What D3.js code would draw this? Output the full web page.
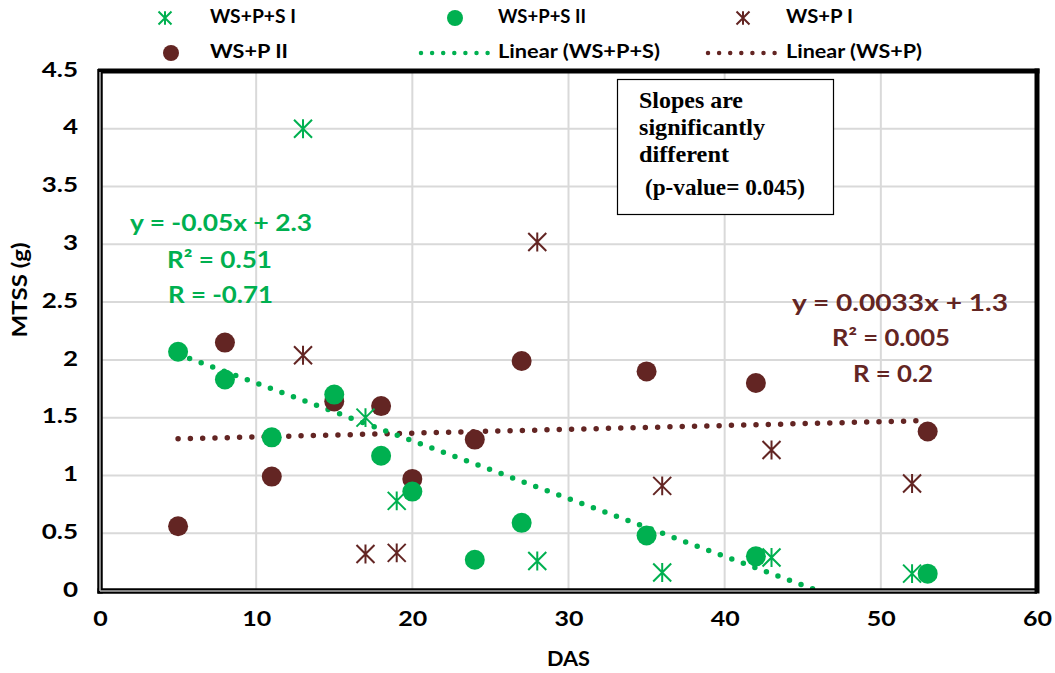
<!DOCTYPE html>
<html>
<head>
<meta charset="utf-8">
<script src="https://cdn.jsdelivr.net/npm/d3@7"></script>
<style>
  html, body { margin: 0; padding: 0; background: #fff; }
  svg { display: block; }
</style>
</head>
<body>
<svg id="chart" width="1055" height="673"></svg>
<script>
// ---------- data ----------
const xTicks = [0, 10, 20, 30, 40, 50, 60];
const yTicks = [0, 0.5, 1, 1.5, 2, 2.5, 3, 3.5, 4, 4.5];
const yTickLabels = ["0", "0.5", "1", "1.5", "2", "2.5", "3", "3.5", "4", "4.5"];

const wspsI_x  = [13, 17, 19, 28, 36, 43, 52];
const wspsI_y  = [4.0, 1.5, 0.78, 0.26, 0.16, 0.29, 0.15];
const wspsII_x = [5, 8, 11, 15, 18, 20, 24, 27, 35, 42, 53];
const wspsII_y = [2.07, 1.83, 1.33, 1.70, 1.17, 0.86, 0.27, 0.59, 0.48, 0.30, 0.15];
const wspI_x   = [13, 17, 19, 28, 36, 43, 52];
const wspI_y   = [2.04, 0.32, 0.33, 3.02, 0.91, 1.22, 0.93];
const wspII_x  = [5, 8, 11, 15, 18, 20, 24, 27, 35, 42, 53];
const wspII_y  = [0.56, 2.15, 0.99, 1.64, 1.60, 0.97, 1.31, 1.99, 1.90, 1.80, 1.38];

// trend lines as printed on the chart: slope, intercept, x range
const trendWSPS = { slope: -0.05, intercept: 2.3, x0: 5, x1: 53 };
const trendWSP  = { slope: 0.0033, intercept: 1.3, x0: 5, x1: 53 };

const legendNames = ["WS+P+S I", "WS+P+S II", "WS+P I", "WS+P II", "Linear (WS+P+S)", "Linear (WS+P)"];
const eqWSPS = ["y = -0.05x + 2.3", "R² = 0.51", "R = -0.71"];
const eqWSP  = ["y = 0.0033x + 1.3", "R² = 0.005", "R = 0.2"];
const noteLines = ["Slopes are", "significantly", "different", "(p-value= 0.045)"];

const GREEN = "#00b050";
const BROWN = "#632523";
const SANS = "Lato, 'Open Sans', sans-serif";
const SERIF = "'Liberation Serif', 'Times New Roman', serif";

// ---------- layout ----------
const svg = d3.select("#chart");
const x = d3.scaleLinear().domain([0, 60]).range([100, 1037]);
const y = d3.scaleLinear().domain([0, 4.5]).range([591, 71]);

function label(g, tx, ty, str, opts) {
  const t = g.append("text").attr("x", tx).attr("y", ty)
    .style("font-family", opts.family || SANS).style("font-weight", "bold")
    .style("font-size", opts.size + "px").attr("fill", opts.fill || "#000")
    .attr("text-anchor", opts.anchor || "start").attr("dominant-baseline", "middle").text(str);
  if (opts.len) t.attr("textLength", opts.len).attr("lengthAdjust", "spacingAndGlyphs");
  return t;
}

// grid
const grid = svg.append("g");
grid.selectAll("line.v").data(xTicks.slice(1, -1)).join("line")
  .attr("x1", d => x(d)).attr("x2", d => x(d))
  .attr("y1", y(4.5)).attr("y2", y(0))
  .attr("stroke", "#d9d9d9").attr("stroke-width", 2);
grid.selectAll("line.h").data(yTicks.slice(1, -1)).join("line")
  .attr("x1", x(0)).attr("x2", x(60))
  .attr("y1", d => y(d)).attr("y2", d => y(d))
  .attr("stroke", "#d9d9d9").attr("stroke-width", 2);

// axes (labels only), text widened like the original
const xAxis = d3.axisBottom(x).tickValues(xTicks).tickSize(0).tickPadding(0);
const gx = svg.append("g").attr("transform", `translate(0,${y(0) + 30})`).call(xAxis);
gx.select(".domain").remove();
gx.selectAll(".tick text").attr("dy", null).attr("y", 0)
  .attr("dominant-baseline", "middle").attr("fill", "#000")
  .style("font-family", SANS).style("font-weight", "bold").style("font-size", "20px")
  .attr("transform", "scale(1.25,1)");

const yAxis = d3.axisLeft(y).tickValues(yTicks).tickFormat((d, i) => yTickLabels[i]).tickSize(0).tickPadding(0);
const gy = svg.append("g").attr("transform", `translate(${x(0) - 22},0)`).call(yAxis);
gy.select(".domain").remove();
gy.selectAll(".tick text").attr("x", 0).attr("dy", null).attr("dominant-baseline", "middle")
  .attr("fill", "#000")
  .style("font-family", SANS).style("font-weight", "bold").style("font-size", "20px")
  .attr("transform", "scale(1.3,1)");

// axis titles
label(svg, (x(0) + x(60)) / 2, 661, "DAS", { size: 21, anchor: "middle", len: 43 });
label(svg.append("g").attr("transform", "translate(22,290) rotate(-90)"), 0, 0, "MTSS (g)",
  { size: 21, anchor: "middle", len: 95 });

// clip for plot
svg.append("clipPath").attr("id", "plotClip").append("rect")
  .attr("x", x(0)).attr("y", y(4.5)).attr("width", x(60) - x(0)).attr("height", y(0) - y(4.5));

// trend lines
function trendPts(t) {
  return [[t.x0, t.slope * t.x0 + t.intercept], [t.x1, t.slope * t.x1 + t.intercept]];
}
const line = d3.line().x(d => x(d[0])).y(d => y(d[1]));
const tg = svg.append("g").attr("clip-path", "url(#plotClip)");
tg.append("path").attr("d", line(trendPts(trendWSP)))
  .attr("stroke", BROWN).attr("stroke-width", 5.5).attr("stroke-linecap", "round")
  .attr("stroke-dasharray", "0 12.3").attr("fill", "none");
tg.append("path").attr("d", line(trendPts(trendWSPS)))
  .attr("stroke", GREEN).attr("stroke-width", 5.5).attr("stroke-linecap", "round")
  .attr("stroke-dasharray", "0 12.3").attr("fill", "none");

// markers
function asterisk(g, cx, cy, color, s) {
  const h = s / 2;
  const p = `M${cx - h},${cy - h}L${cx + h},${cy + h}M${cx - h},${cy + h}L${cx + h},${cy - h}M${cx},${cy - h * 1.05}L${cx},${cy + h * 1.05}`;
  g.append("path").attr("d", p).attr("stroke", color).attr("stroke-width", 2).attr("fill", "none");
}
function circles(xs, ys, color) {
  svg.append("g").selectAll("circle").data(xs.map((v, i) => [v, ys[i]])).join("circle")
    .attr("cx", d => x(d[0])).attr("cy", d => y(d[1])).attr("r", 10).attr("fill", color);
}
function asterisks(xs, ys, color) {
  const g = svg.append("g");
  xs.forEach((v, i) => asterisk(g, x(v), y(ys[i]), color, 18));
}
circles(wspII_x, wspII_y, BROWN);
circles(wspsII_x, wspsII_y, GREEN);
asterisks(wspI_x, wspI_y, BROWN);
asterisks(wspsI_x, wspsI_y, GREEN);

// plot border
const L = x(0), R = x(60), T = y(4.5), B = y(0);
svg.append("line").attr("x1", L - 2).attr("x2", R + 2.5).attr("y1", T).attr("y2", T)
  .attr("stroke", "#000").attr("stroke-width", 5);
svg.append("line").attr("x1", R).attr("x2", R).attr("y1", T - 2.5).attr("y2", B + 2.5)
  .attr("stroke", "#000").attr("stroke-width", 5);
svg.append("line").attr("x1", L).attr("x2", L).attr("y1", T - 2).attr("y2", B + 2.5)
  .attr("stroke", "#000").attr("stroke-width", 5.5);
svg.append("line").attr("x1", L - 2.5).attr("x2", R).attr("y1", B).attr("y2", B)
  .attr("stroke", "#000").attr("stroke-width", 5.5);
svg.append("line").attr("x1", L).attr("x2", L).attr("y1", T + 1).attr("y2", B)
  .attr("stroke", "#b0b0b0").attr("stroke-width", 1.6);
svg.append("line").attr("x1", L).attr("x2", R - 2.5).attr("y1", B).attr("y2", B)
  .attr("stroke", "#b0b0b0").attr("stroke-width", 1.6);

// equations
const eqG = svg.append("g");
[[130, 225, 182], [167, 262, 105], [168, 297, 105]].forEach((p, i) => {
  label(eqG, p[0], p[1], eqWSPS[i], { size: 23, fill: GREEN, len: p[2] });
});
const eqB = svg.append("g");
[[900, 305, 216], [891, 340, 118], [893, 376, 80]].forEach((p, i) => {
  label(eqB, p[0], p[1], eqWSP[i], { size: 23, fill: BROWN, anchor: "middle", len: p[2] });
});

// note box
svg.append("rect").attr("x", 617.5).attr("y", 79.5).attr("width", 216).attr("height", 135)
  .attr("fill", "#fff").attr("stroke", "#000").attr("stroke-width", 1.2);
const noteG = svg.append("g");
[[639, 103, 104], [639, 130, 126], [639, 157, 90], [645, 190, 160]].forEach((p, i) => {
  label(noteG, p[0], p[1], noteLines[i], { size: 23, family: SERIF, len: p[2] });
});

// legend
const lg = svg.append("g");
const legendItems = [
  { type: "ast", color: GREEN, mx: 165, tx: 210, yy: 18, len: 86 },
  { type: "dot", color: GREEN, mx: 455, tx: 498, yy: 18, len: 88 },
  { type: "ast", color: BROWN, mx: 743, tx: 786, yy: 18, len: 67 },
  { type: "dot", color: BROWN, mx: 171, tx: 210, yy: 53, len: 78 },
  { type: "line", color: GREEN, mx: 454, tx: 498, yy: 53, len: 162 },
  { type: "line", color: BROWN, mx: 741, tx: 786, yy: 53, len: 136 }
];
legendItems.forEach((it, i) => {
  if (it.type === "ast") asterisk(lg, it.mx, it.yy, it.color, 13);
  else if (it.type === "dot") lg.append("circle").attr("cx", it.mx).attr("cy", it.yy).attr("r", 8).attr("fill", it.color);
  else lg.append("line").attr("x1", it.mx - 33).attr("x2", it.mx + 34).attr("y1", it.yy).attr("y2", it.yy)
    .attr("stroke", it.color).attr("stroke-width", 4.5).attr("stroke-linecap", "round").attr("stroke-dasharray", "0 11.1");
  label(lg, it.tx, it.yy, legendNames[i], { size: 18, len: it.len });
});
</script>
</body>
</html>
